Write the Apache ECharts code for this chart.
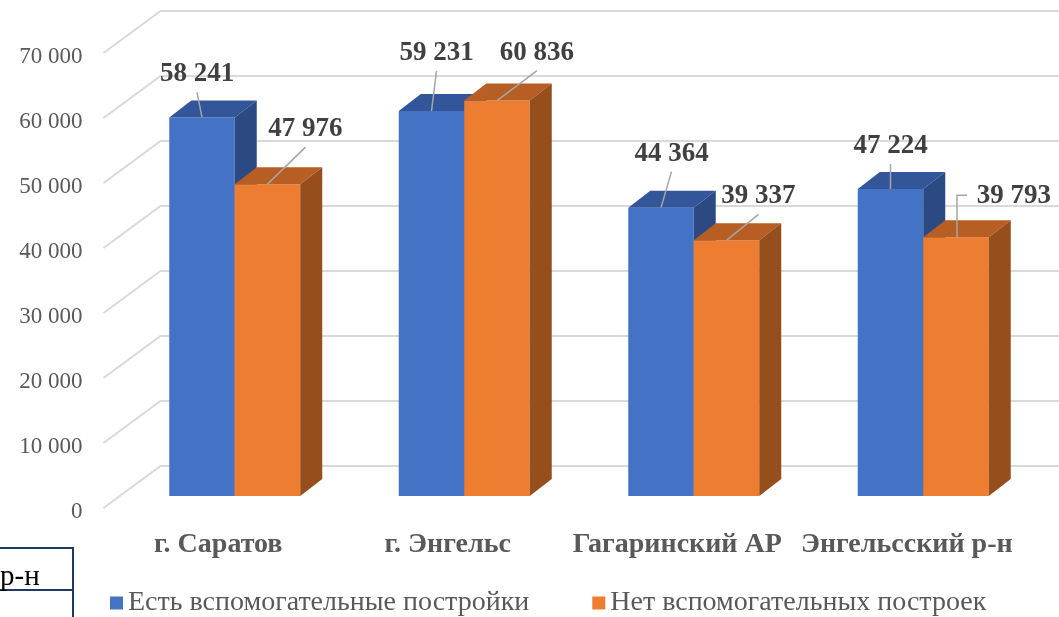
<!DOCTYPE html>
<html>
<head>
<meta charset="utf-8">
<script src="https://cdn.jsdelivr.net/npm/echarts@6/dist/echarts.min.js"></script>
<style>
  html, body { margin: 0; padding: 0; background: #ffffff; }
  #chart { width: 1059px; height: 617px; }
</style>
</head>
<body>
<div id="chart"></div>
<script>
// Categories and values
const categories = ['г. Саратов', 'г. Энгельс', 'Гагаринский АР', 'Энгельсский р-н'];
const seriesNames = ['Есть вспомогательные постройки', 'Нет вспомогательных построек'];
const withOutbuildings = [58241, 59231, 44364, 47224];
const withoutOutbuildings = [47976, 60836, 39337, 39793];
const yTicks = [0, 10000, 20000, 30000, 40000, 50000, 60000, 70000];

// Value-label placement, relative to the centre of each bar's top front edge
const labelOffsetsA = [[-5, -43], [5, -58], [10.5, -54], [0, -43]];
const labelOffsetsB = [[38, -55], [40, -48], [32, -44], [58, -41]];
const elbowLeadersB = [false, false, false, true];

const FONT = '"Liberation Serif", "Times New Roman", serif';
// oblique projection: depth offsets in pixels
const WALL = [57, -42];        // front plane -> back wall
const BAR_PLANE = [16.5, -12]; // front plane -> bar front faces
const BAR_DEPTH = [22, -17];   // bar thickness
const BAR_FRACTION = 0.2854;   // one bar's width as share of a category band

const chart = echarts.init(document.getElementById('chart'), null, { renderer: 'canvas' });

function fmt(v) {
  return String(v).replace(/\B(?=(\d{3})+(?!\d))/g, ' ');
}

function gridlineRenderer(params, api) {
  const p = api.coord([0, api.value(1)]);
  const left = params.coordSys.x;
  const right = chart.getWidth();
  return {
    type: 'polyline',
    silent: true,
    shape: { points: [[left, p[1]], [left + WALL[0], p[1] + WALL[1]], [right, p[1] + WALL[1]]] },
    style: { stroke: '#d9d9d9', lineWidth: 2, fill: null }
  };
}

function barRenderer(side, colors, offsets, elbows) {
  return function (params, api) {
    const i = api.value(0);
    const v = api.value(1);
    const top = api.coord([i, v]);
    const base = api.coord([i, 0]);
    const band = api.size([1, 0])[0];
    const w = band * BAR_FRACTION;
    const x0 = top[0] + BAR_PLANE[0] + (side < 0 ? -w : 0);
    const x1 = x0 + w;
    const yt = top[1] + BAR_PLANE[1];
    const yb = base[1] + BAR_PLANE[1];
    const dx = BAR_DEPTH[0], dy = BAR_DEPTH[1];
    const cx = (x0 + x1) / 2;
    const off = offsets[i];
    const lx = cx + off[0], ly = yt + off[1];
    let leader;
    if (elbows && elbows[i]) {
      leader = [[lx - 47, ly - 1], [cx + 1, ly - 1], [cx + 1, yt]];
    } else {
      leader = [[lx, ly + 18], [cx, yt]];
    }
    return {
      type: 'group',
      children: [
        { type: 'polygon', shape: { points: [[x0, yt], [x1, yt], [x1, yb], [x0, yb]] },
          style: { fill: colors[0] } },
        { type: 'polygon', shape: { points: [[x0, yt], [x1, yt], [x1 + dx, yt + dy], [x0 + dx, yt + dy]] },
          style: { fill: colors[1] } },
        { type: 'polygon', shape: { points: [[x1, yt], [x1 + dx, yt + dy], [x1 + dx, yb + dy], [x1, yb]] },
          style: { fill: colors[2] } },
        { type: 'polyline', shape: { points: leader },
          style: { stroke: '#a6a6a6', lineWidth: 1.5, fill: null } },
        { type: 'text', style: {
            text: fmt(v), x: lx, y: ly, align: 'center', verticalAlign: 'middle',
            fontFamily: FONT, fontWeight: 'bold', fontSize: 27, fill: '#404040' } }
      ]
    };
  };
}

const blueFaces = ['#4472c4', '#33569a', '#2b4a83'];
const orangeFaces = ['#ed7d31', '#b65e23', '#974e1d'];

const option = {
  backgroundColor: '#ffffff',
  animation: false,
  grid: { left: 103.5, top: 53, width: 918, height: 455 },
  xAxis: {
    type: 'category',
    data: categories,
    axisLine: { show: false },
    axisTick: { show: false },
    axisLabel: { interval: 0, hideOverlap: false, margin: 23, fontFamily: FONT,
      fontWeight: 'bold', fontSize: 28, color: '#595959' }
  },
  yAxis: {
    type: 'value',
    min: 0, max: 70000, interval: 10000,
    axisLine: { show: false },
    axisTick: { show: false },
    splitLine: { show: false },
    axisLabel: { margin: 21, fontFamily: FONT, fontSize: 23, color: '#595959',
      verticalAlign: 'top', lineHeight: 8, formatter: fmt }
  },
  legend: {
    data: seriesNames,
    left: 105, top: 584,
    icon: 'rect', itemWidth: 13, itemHeight: 13, itemGap: 63,
    textStyle: { fontFamily: FONT, fontSize: 28, color: '#595959' }
  },
  graphic: [
    { type: 'rect', shape: { x: -4, y: 548, width: 77, height: 100 },
      style: { fill: '#ffffff', stroke: '#1f3864', lineWidth: 2 } },
    { type: 'line', shape: { x1: -4, y1: 590, x2: 73, y2: 590 },
      style: { stroke: '#1f3864', lineWidth: 2 } },
    { type: 'text', x: 0, y: 577, style: { text: 'р-н', fontFamily: FONT, fontSize: 29,
      fill: '#000000', verticalAlign: 'middle' } }
  ],
  series: [
    {
      type: 'custom', name: 'grid', z: 1, silent: true,
      data: yTicks.map(v => [0, v]),
      encode: { x: 0, y: 1 },
      renderItem: gridlineRenderer
    },
    {
      type: 'custom', name: seriesNames[0], z: 2,
      itemStyle: { color: blueFaces[0] },
      data: withOutbuildings.map((v, i) => [i, v]),
      encode: { x: 0, y: 1 },
      renderItem: barRenderer(-1, blueFaces, labelOffsetsA, null)
    },
    {
      type: 'custom', name: seriesNames[1], z: 3,
      itemStyle: { color: orangeFaces[0] },
      data: withoutOutbuildings.map((v, i) => [i, v]),
      encode: { x: 0, y: 1 },
      renderItem: barRenderer(1, orangeFaces, labelOffsetsB, elbowLeadersB)
    }
  ]
};

chart.setOption(option);
</script>
</body>
</html>
